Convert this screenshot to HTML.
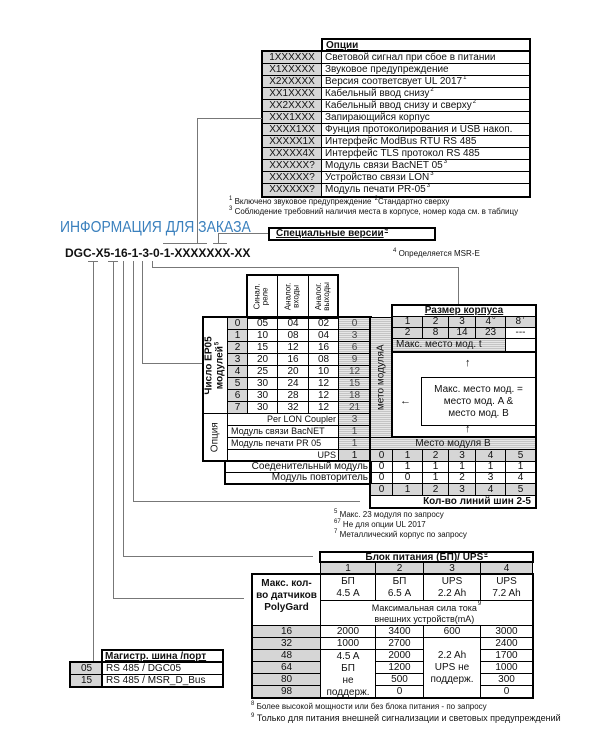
<!DOCTYPE html>
<html><head><meta charset="utf-8">
<style>
body{margin:0;background:#fff;width:600px;height:732px;position:relative;overflow:hidden;font-family:"Liberation Sans",Arial,sans-serif;color:#111}
.b{position:absolute;box-sizing:border-box;border:1px solid #000;font-size:10px;display:flex;align-items:center;justify-content:center;white-space:nowrap;overflow:hidden;line-height:1}
.g{background:#d6d6d6}
.h{background:repeating-linear-gradient(to bottom,#e6e6e6 0 1px,#c4c4c4 1px 2px)}
.L{justify-content:flex-start;padding-left:3px}
.R{justify-content:flex-end;padding-right:2px}
.o{position:absolute;box-sizing:border-box;border:2px solid #000}
.l{position:absolute;background:#777}
.t{position:absolute;white-space:nowrap;line-height:1}
.rot{position:absolute;transform:rotate(-90deg);transform-origin:center;white-space:nowrap;text-align:center;line-height:1.05}
sup{font-size:6px;position:relative;top:-4px;vertical-align:baseline;margin-left:1px}
</style></head><body>

<!-- Options table -->
<div class="b" style="left:322px;top:39px;width:208px;height:13px;font-weight:bold;justify-content:flex-start;padding-left:3px;text-decoration:underline">Опции</div>
<div class="b g" style="left:262px;top:51px;width:60px;height:13px">1XXXXXX</div><div class="b L" style="left:321px;top:51px;width:209px;height:13px">Световой сигнал при сбое в питании</div>
<div class="b g" style="left:262px;top:63px;width:60px;height:13px">X1XXXXX</div><div class="b L" style="left:321px;top:63px;width:209px;height:13px">Звуковое предупреждение</div>
<div class="b g" style="left:262px;top:75px;width:60px;height:13px">X2XXXXX</div><div class="b L" style="left:321px;top:75px;width:209px;height:13px">Версия соответсвует UL 2017<sup>1</sup></div>
<div class="b g" style="left:262px;top:87px;width:60px;height:13px">XX1XXXX</div><div class="b L" style="left:321px;top:87px;width:209px;height:13px">Кабельный ввод снизу<sup>2</sup></div>
<div class="b g" style="left:262px;top:99px;width:60px;height:13px">XX2XXXX</div><div class="b L" style="left:321px;top:99px;width:209px;height:13px">Кабельный ввод снизу и сверху<sup>2</sup></div>
<div class="b g" style="left:262px;top:111px;width:60px;height:13px">XXX1XXX</div><div class="b L" style="left:321px;top:111px;width:209px;height:13px">Запирающийся корпус</div>
<div class="b g" style="left:262px;top:123px;width:60px;height:13px">XXXX1XX</div><div class="b L" style="left:321px;top:123px;width:209px;height:13px">Фунция протоколирования и USB накоп.</div>
<div class="b g" style="left:262px;top:135px;width:60px;height:13px">XXXXX1X</div><div class="b L" style="left:321px;top:135px;width:209px;height:13px">Интерфейс ModBus RTU RS 485</div>
<div class="b g" style="left:262px;top:147px;width:60px;height:13px">XXXXX4X</div><div class="b L" style="left:321px;top:147px;width:209px;height:13px">Интерфейс TLS протокол RS 485</div>
<div class="b g" style="left:262px;top:159px;width:60px;height:13px">XXXXXX?</div><div class="b L" style="left:321px;top:159px;width:209px;height:13px">Модуль связи BacNET 05<sup>3</sup></div>
<div class="b g" style="left:262px;top:171px;width:60px;height:13px">XXXXXX?</div><div class="b L" style="left:321px;top:171px;width:209px;height:13px">Устройство связи LON<sup>3</sup></div>
<div class="b g" style="left:262px;top:183px;width:60px;height:14px">XXXXXX?</div><div class="b L" style="left:321px;top:183px;width:209px;height:14px">Модуль печати PR-05<sup>3</sup></div>
<div class="o" style="left:321px;top:38px;width:210px;height:14px"></div>
<div class="o" style="left:261px;top:50px;width:270px;height:148px"></div>
<div class="t" style="left:228px;top:198px;font-size:8px"><sup>1</sup> Включено звуковое предупреждение <sup>2</sup>Стандартно сверху</div>
<div class="t" style="left:228px;top:208px;font-size:8px"><sup>3</sup> Соблюдение требовний наличия места в корпусе, номер кода см. в таблицу</div>

<div class="t" style="left:60px;top:220px;font-size:16px;color:#3a80bd;transform:scaleX(0.87);transform-origin:left top">ИНФОРМАЦИЯ ДЛЯ ЗАКАЗА</div>
<div class="b" style="left:268px;top:227px;width:168px;height:14px;border-width:2px;font-weight:bold;justify-content:flex-start;padding-left:6px;text-decoration:underline">Специальные версии<sup>4</sup></div>
<div class="t" style="left:65px;top:247px;font-size:12px;font-weight:bold">DGC-X5-16-1-3-0-1-XXXXXXX-XX</div>
<div class="t" style="left:392px;top:250px;font-size:8px"><sup>4</sup> Определяется MSR-E</div>

<!-- connector lines -->
<div class="l" style="left:163px;top:243px;width:44px;height:1px"></div>
<div class="l" style="left:197px;top:118px;width:1px;height:125px"></div>
<div class="l" style="left:197px;top:118px;width:65px;height:1px"></div>
<div class="l" style="left:213px;top:243px;width:14px;height:1px"></div>
<div class="l" style="left:218px;top:233px;width:1px;height:10px"></div>
<div class="l" style="left:218px;top:233px;width:50px;height:1px"></div>

<div class="l" style="left:88px;top:261px;width:10px;height:1px"></div>
<div class="l" style="left:108px;top:261px;width:10px;height:1px"></div>
<div class="l" style="left:93px;top:261px;width:1px;height:406px"></div>
<div class="l" style="left:113px;top:261px;width:1px;height:338px"></div>
<div class="l" style="left:113px;top:598px;width:131px;height:1px"></div>
<div class="l" style="left:123px;top:261px;width:1px;height:296px"></div>
<div class="l" style="left:123px;top:556px;width:190px;height:1px"></div>
<div class="l" style="left:133px;top:261px;width:1px;height:241px"></div>
<div class="l" style="left:133px;top:501px;width:227px;height:1px"></div>
<div class="l" style="left:142px;top:261px;width:1px;height:103px"></div>
<div class="l" style="left:142px;top:363px;width:61px;height:1px"></div>
<div class="l" style="left:152px;top:261px;width:1px;height:7px"></div>
<div class="l" style="left:152px;top:267px;width:306px;height:1px"></div>
<div class="l" style="left:458px;top:267px;width:1px;height:38px"></div>

<!-- main table header -->
<div class="b" style="left:247px;top:275px;width:31px;height:43px"><div class="rot" style="font-size:8px">Синал.<br>реле</div></div>
<div class="b" style="left:277px;top:275px;width:32px;height:43px"><div class="rot" style="font-size:8px">Аналог.<br>входы</div></div>
<div class="b" style="left:308px;top:275px;width:31px;height:43px"><div class="rot" style="font-size:8px">Аналог.<br>выходы</div></div>
<div class="o" style="left:246px;top:274px;width:93px;height:45px"></div>

<div class="b" style="left:203px;top:317px;width:25px;height:97px"><div class="rot" style="font-size:10px;font-weight:bold">Число EP05<br>модулей<sup>5</sup></div></div>

<div class="b g" style="left:227px;top:317px;width:21px;height:13px">0</div><div class="b" style="left:247px;top:317px;width:31px;height:13px">05</div><div class="b" style="left:277px;top:317px;width:32px;height:13px">04</div><div class="b" style="left:308px;top:317px;width:31px;height:13px">02</div><div class="b h" style="left:338px;top:317px;width:33px;height:13px;color:#444">0</div>
<div class="b g" style="left:227px;top:329px;width:21px;height:13px">1</div><div class="b" style="left:247px;top:329px;width:31px;height:13px">10</div><div class="b" style="left:277px;top:329px;width:32px;height:13px">08</div><div class="b" style="left:308px;top:329px;width:31px;height:13px">04</div><div class="b h" style="left:338px;top:329px;width:33px;height:13px;color:#444">3</div>
<div class="b g" style="left:227px;top:341px;width:21px;height:13px">2</div><div class="b" style="left:247px;top:341px;width:31px;height:13px">15</div><div class="b" style="left:277px;top:341px;width:32px;height:13px">12</div><div class="b" style="left:308px;top:341px;width:31px;height:13px">16</div><div class="b h" style="left:338px;top:341px;width:33px;height:13px;color:#444">6</div>
<div class="b g" style="left:227px;top:353px;width:21px;height:13px">3</div><div class="b" style="left:247px;top:353px;width:31px;height:13px">20</div><div class="b" style="left:277px;top:353px;width:32px;height:13px">16</div><div class="b" style="left:308px;top:353px;width:31px;height:13px">08</div><div class="b h" style="left:338px;top:353px;width:33px;height:13px;color:#444">9</div>
<div class="b g" style="left:227px;top:365px;width:21px;height:13px">4</div><div class="b" style="left:247px;top:365px;width:31px;height:13px">25</div><div class="b" style="left:277px;top:365px;width:32px;height:13px">20</div><div class="b" style="left:308px;top:365px;width:31px;height:13px">10</div><div class="b h" style="left:338px;top:365px;width:33px;height:13px;color:#444">12</div>
<div class="b g" style="left:227px;top:377px;width:21px;height:13px">5</div><div class="b" style="left:247px;top:377px;width:31px;height:13px">30</div><div class="b" style="left:277px;top:377px;width:32px;height:13px">24</div><div class="b" style="left:308px;top:377px;width:31px;height:13px">12</div><div class="b h" style="left:338px;top:377px;width:33px;height:13px;color:#444">15</div>
<div class="b g" style="left:227px;top:389px;width:21px;height:13px">6</div><div class="b" style="left:247px;top:389px;width:31px;height:13px">30</div><div class="b" style="left:277px;top:389px;width:32px;height:13px">28</div><div class="b" style="left:308px;top:389px;width:31px;height:13px">12</div><div class="b h" style="left:338px;top:389px;width:33px;height:13px;color:#444">18</div>
<div class="b g" style="left:227px;top:401px;width:21px;height:13px">7</div><div class="b" style="left:247px;top:401px;width:31px;height:13px">30</div><div class="b" style="left:277px;top:401px;width:32px;height:13px">32</div><div class="b" style="left:308px;top:401px;width:31px;height:13px">12</div><div class="b h" style="left:338px;top:401px;width:33px;height:13px;color:#444">21</div>

<div class="b" style="left:203px;top:413px;width:25px;height:48px"><div class="rot" style="font-size:10px">Опция</div></div>
<div class="b R" style="left:227px;top:413px;width:112px;height:13px;font-size:9px">Per LON Coupler</div><div class="b h" style="left:338px;top:413px;width:33px;height:13px;color:#444">3</div>
<div class="b L" style="left:227px;top:425px;width:112px;height:13px;font-size:9px">Модуль связи BacNET</div><div class="b h" style="left:338px;top:425px;width:33px;height:13px;color:#444">1</div>
<div class="b L" style="left:227px;top:437px;width:112px;height:13px;font-size:9px">Модуль печати PR 05</div><div class="b h" style="left:338px;top:437px;width:33px;height:13px;color:#444">1</div>
<div class="b R" style="left:227px;top:449px;width:112px;height:13px;font-size:9px">UPS</div><div class="b g" style="left:338px;top:449px;width:33px;height:13px">1</div>
<div class="o" style="left:202px;top:316px;width:170px;height:146px"></div>

<div class="b R" style="left:225px;top:461px;width:146px;height:12px">Соеденительный модуль</div>
<div class="b R" style="left:225px;top:472px;width:146px;height:12px">Модуль повторитель</div>
<div class="o" style="left:224px;top:460px;width:148px;height:25px"></div>

<!-- right part -->
<div class="b h" style="left:370px;top:317px;width:23px;height:121px"><div class="rot" style="font-size:10px">мето модуляA</div></div>
<div class="b" style="left:392px;top:305px;width:144px;height:12px;font-weight:bold;text-decoration:underline">Размер корпуса</div>
<div class="b g" style="left:392px;top:316px;width:31px;height:12px">1</div><div class="b g" style="left:422px;top:316px;width:27px;height:12px">2</div><div class="b g" style="left:448px;top:316px;width:28px;height:12px">3</div><div class="b g" style="left:475px;top:316px;width:31px;height:12px">4<sup>6</sup></div><div class="b g" style="left:505px;top:316px;width:31px;height:12px">8<sup>7</sup></div>
<div class="b g" style="left:392px;top:327px;width:31px;height:12px">2</div><div class="b g" style="left:422px;top:327px;width:27px;height:12px">8</div><div class="b g" style="left:448px;top:327px;width:28px;height:12px">14</div><div class="b g" style="left:475px;top:327px;width:31px;height:12px">23</div><div class="b" style="left:505px;top:327px;width:31px;height:12px">---</div>
<div class="b h L" style="left:392px;top:338px;width:114px;height:14px">Макс. место мод. t</div>
<div class="t" style="left:465px;top:358px;font-size:11px">↑</div>
<div class="t" style="left:465px;top:424px;font-size:11px">↑</div>
<div class="t" style="left:400px;top:396px;font-size:11px">←</div>
<div class="b" style="left:421px;top:377px;width:115px;height:49px;font-size:10px;line-height:12px;text-align:center;white-space:normal">Макс. место мод. =<br>место мод. A &amp;<br>место мод. B</div>
<div class="b h" style="left:370px;top:437px;width:166px;height:13px">Место модуля B</div>
<div class="b g" style="left:370px;top:449px;width:23px;height:13px">0</div><div class="b g" style="left:392px;top:449px;width:31px;height:13px">1</div><div class="b g" style="left:422px;top:449px;width:27px;height:13px">2</div><div class="b g" style="left:448px;top:449px;width:28px;height:13px">3</div><div class="b g" style="left:475px;top:449px;width:31px;height:13px">4</div><div class="b g" style="left:505px;top:449px;width:31px;height:13px">5</div>
<div class="b" style="left:370px;top:461px;width:23px;height:12px">0</div><div class="b" style="left:392px;top:461px;width:31px;height:12px">1</div><div class="b" style="left:422px;top:461px;width:27px;height:12px">1</div><div class="b" style="left:448px;top:461px;width:28px;height:12px">1</div><div class="b" style="left:475px;top:461px;width:31px;height:12px">1</div><div class="b" style="left:505px;top:461px;width:31px;height:12px">1</div>
<div class="b" style="left:370px;top:472px;width:23px;height:12px">0</div><div class="b" style="left:392px;top:472px;width:31px;height:12px">0</div><div class="b" style="left:422px;top:472px;width:27px;height:12px">1</div><div class="b" style="left:448px;top:472px;width:28px;height:12px">2</div><div class="b" style="left:475px;top:472px;width:31px;height:12px">3</div><div class="b" style="left:505px;top:472px;width:31px;height:12px">4</div>
<div class="b g" style="left:370px;top:483px;width:23px;height:13px">0</div><div class="b g" style="left:392px;top:483px;width:31px;height:13px">1</div><div class="b g" style="left:422px;top:483px;width:27px;height:13px">2</div><div class="b g" style="left:448px;top:483px;width:28px;height:13px">3</div><div class="b g" style="left:475px;top:483px;width:31px;height:13px">4</div><div class="b g" style="left:505px;top:483px;width:31px;height:13px">5</div>
<div class="b R" style="left:370px;top:495px;width:166px;height:13px;font-weight:bold;padding-right:4px">Кол-во линий шин 2-5</div>
<div class="o" style="left:391px;top:304px;width:146px;height:49px"></div>
<div class="o" style="left:369px;top:316px;width:168px;height:193px;border-top:none"></div>
<div class="o" style="left:391px;top:304px;width:146px;height:134px"></div>

<div class="t" style="left:333px;top:511px;font-size:8px"><sup>5</sup> Макс. 23 модуля по запросу</div>
<div class="t" style="left:333px;top:521px;font-size:8px"><sup>67</sup> Не для опции UL 2017</div>
<div class="t" style="left:333px;top:531px;font-size:8px"><sup>7</sup> Металлический корпус по запросу</div>

<!-- Power table -->
<div class="b" style="left:320px;top:552px;width:213px;height:11px;font-weight:bold;text-decoration:underline">Блок питания (БП)/ UPS <sup>8</sup></div>
<div class="b g" style="left:320px;top:562px;width:56px;height:13px">1</div><div class="b g" style="left:375px;top:562px;width:49px;height:13px">2</div><div class="b g" style="left:423px;top:562px;width:58px;height:13px">3</div><div class="b g" style="left:480px;top:562px;width:53px;height:13px">4</div>
<div class="b" style="left:252px;top:574px;width:69px;height:52px;font-weight:bold;align-items:flex-start;padding-top:3px;text-align:center;line-height:12px">Макс. кол-<br>во датчиков<br>PolyGard</div>
<div class="b" style="left:320px;top:574px;width:56px;height:27px;line-height:12px;text-align:center">БП<br>4.5 A</div>
<div class="b" style="left:375px;top:574px;width:49px;height:27px;line-height:12px;text-align:center">БП<br>6.5 A</div>
<div class="b" style="left:423px;top:574px;width:58px;height:27px;line-height:12px;text-align:center">UPS<br>2.2 Ah</div>
<div class="b" style="left:480px;top:574px;width:53px;height:27px;line-height:12px;text-align:center">UPS<br>7.2 Ah</div>
<div class="b" style="left:320px;top:600px;width:213px;height:26px;font-size:9px;line-height:11px;text-align:center;align-items:flex-start;padding-top:2px">Максимальная сила тока<br>внешних устройств(mA)<sup>9</sup></div>

<div class="b g" style="left:252px;top:625px;width:69px;height:13px">16</div>
<div class="b g" style="left:252px;top:637px;width:69px;height:13px">32</div>
<div class="b g" style="left:252px;top:649px;width:69px;height:13px">48</div>
<div class="b g" style="left:252px;top:661px;width:69px;height:13px">64</div>
<div class="b g" style="left:252px;top:673px;width:69px;height:13px">80</div>
<div class="b g" style="left:252px;top:685px;width:69px;height:13px">98</div>
<div class="b" style="left:320px;top:625px;width:56px;height:13px">2000</div>
<div class="b" style="left:320px;top:637px;width:56px;height:13px">1000</div>
<div class="b" style="left:320px;top:649px;width:56px;height:49px;line-height:12px;text-align:center;align-items:flex-start;padding-top:1px">4.5 A<br>БП<br>не<br>поддерж.</div>
<div class="b" style="left:375px;top:625px;width:49px;height:13px">3400</div>
<div class="b" style="left:375px;top:637px;width:49px;height:13px">2700</div>
<div class="b" style="left:375px;top:649px;width:49px;height:13px">2000</div>
<div class="b" style="left:375px;top:661px;width:49px;height:13px">1200</div>
<div class="b" style="left:375px;top:673px;width:49px;height:13px">500</div>
<div class="b" style="left:375px;top:685px;width:49px;height:13px">0</div>
<div class="b" style="left:423px;top:625px;width:58px;height:13px">600</div>
<div class="b" style="left:423px;top:637px;width:58px;height:61px;line-height:12px;text-align:center">2.2 Ah<br>UPS не<br>поддерж.</div>
<div class="b" style="left:480px;top:625px;width:53px;height:13px">3000</div>
<div class="b" style="left:480px;top:637px;width:53px;height:13px">2400</div>
<div class="b" style="left:480px;top:649px;width:53px;height:13px">1700</div>
<div class="b" style="left:480px;top:661px;width:53px;height:13px">1000</div>
<div class="b" style="left:480px;top:673px;width:53px;height:13px">300</div>
<div class="b" style="left:480px;top:685px;width:53px;height:13px">0</div>
<div class="o" style="left:319px;top:551px;width:215px;height:12px"></div>
<div class="o" style="left:251px;top:573px;width:283px;height:126px"></div>
<div class="t" style="left:250px;top:703px;font-size:8px"><sup>8</sup> Более высокой мощности или без блока питания - по запросу</div>
<div class="t" style="left:250px;top:714px;font-size:9px"><sup>9</sup> Только для питания внешней сигнализации и световых предупреждений</div>

<!-- Port table -->
<div class="b" style="left:102px;top:650px;width:121px;height:13px;font-weight:bold;justify-content:flex-start;padding-left:2px;text-decoration:underline">Магистр. шина /порт</div>
<div class="b g" style="left:70px;top:662px;width:33px;height:13px">05</div><div class="b L" style="left:102px;top:662px;width:121px;height:13px">RS 485 / DGC05</div>
<div class="b g" style="left:70px;top:674px;width:33px;height:13px">15</div><div class="b L" style="left:102px;top:674px;width:121px;height:13px">RS 485 / MSR_D_Bus</div>
<div class="o" style="left:101px;top:649px;width:123px;height:39px"></div>
<div class="o" style="left:69px;top:661px;width:155px;height:27px"></div>
</body></html>
